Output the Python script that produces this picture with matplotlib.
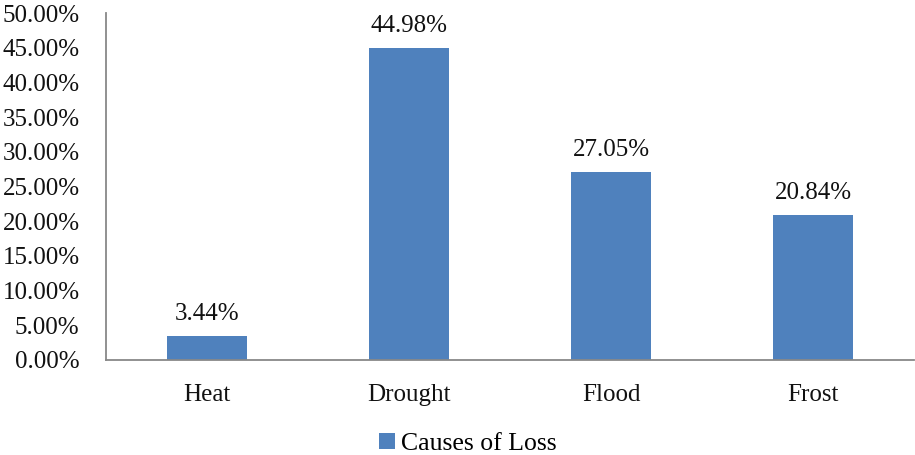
import matplotlib
matplotlib.use("Agg")
import matplotlib.pyplot as plt
from matplotlib.ticker import FuncFormatter
import numpy as np

categories = ["Heat", "Drought", "Flood", "Frost"]
values = [3.44, 44.98, 27.05, 20.84]
yticks = [0, 5, 10, 15, 20, 25, 30, 35, 40, 45, 50]
series_name = "Causes of Loss"

plt.rcParams["font.family"] = ["Liberation Serif", "DejaVu Serif"]

W, H = 915, 455
FS = 18
fig = plt.figure(figsize=(W / 100, H / 100), dpi=100)
ax = fig.add_axes([106 / W, 1 - 360 / H, (914 - 106) / W, (360 - 13) / H])

x = np.arange(len(categories))
ax.bar(x, values, width=0.4, color="#4F81BD", label=series_name, zorder=2)

for xi, v in zip(x, values):
    ax.text(xi, v + 1.6, f"{v:.2f}%", ha="center", va="bottom", fontsize=FS, color="#111111")

ax.set_xlim(-0.5, len(categories) - 0.5)
ax.set_ylim(0, 50)
ax.set_yticks(yticks)
ax.yaxis.set_major_formatter(FuncFormatter(lambda v, p: f"{v:.2f}%"))
ax.set_xticks(x)
ax.set_xticklabels(categories)
ax.tick_params(axis="both", length=0, labelsize=FS, colors="#111111")
ax.tick_params(axis="y", pad=19)
ax.tick_params(axis="x", pad=17)

for s in ["top", "right"]:
    ax.spines[s].set_visible(False)
for s in ["left", "bottom"]:
    ax.spines[s].set_color("#888888")
    ax.spines[s].set_linewidth(1.3)

fig.legend(loc="center", bbox_to_anchor=(468 / W, 1 - 444 / H), frameon=False,
           fontsize=18.5, handlelength=0.6, handleheight=0.6, handletextpad=0.25,
           borderpad=0)

fig.savefig("out.png", dpi=100)
